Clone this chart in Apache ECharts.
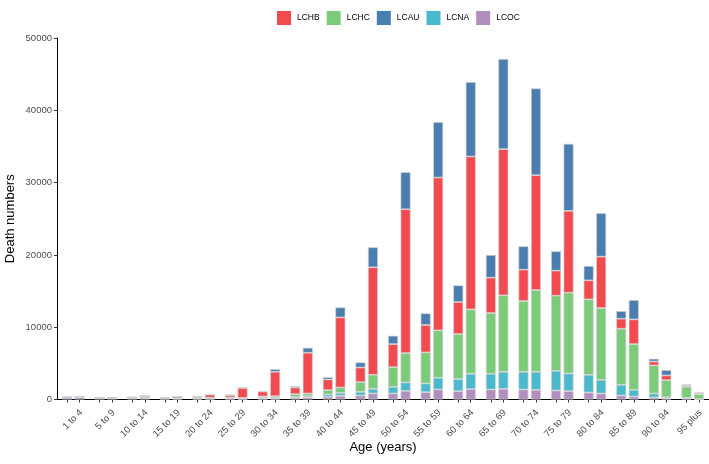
<!DOCTYPE html>
<html>
<head>
<meta charset="utf-8">
<script src="https://cdn.jsdelivr.net/npm/echarts@6/dist/echarts.min.js"></script>
<style>
html,body{margin:0;padding:0;background:#fff;}
#c{width:709px;height:464px;}
</style>
</head>
<body>
<div id="c"></div>
<script>
const ages = ['1 to 4','5 to 9','10 to 14','15 to 19','20 to 24','25 to 29','30 to 34','35 to 39','40 to 44','45 to 49','50 to 54','55 to 59','60 to 64','65 to 69','70 to 74','75 to 79','80 to 84','85 to 89','90 to 94','95 plus'];
const yTicks = [0, 10000, 20000, 30000, 40000, 50000];

// left bar of each age group
const LCOC_left = [260,200,200,120,110,110,120,231,369,554,831,1016,1154,1385,1385,1247,970,554,277,139];
const LCNA_left = [40,30,40,40,60,80,100,138,324,508,923,1200,1662,2170,2447,2724,2447,1477,554,92];
const LCHC_left = [30,20,40,40,60,100,200,370,600,1339,2724,4294,6233,8403,9788,10388,10434,7757,3878,1523];
const LCHB_left = [20,20,30,60,170,320,680,923,1477,2031,3186,3786,4433,4894,4340,3463,2632,1385,554,185];
const LCAU_left = [10,10,10,20,20,40,60,185,323,693,1154,1616,2308,3140,3232,2677,1985,1062,370,139];

// right bar of each age group
const LCOC_right = [300,200,220,110,100,90,110,277,508,831,1200,1385,1431,1477,1339,1154,831,416,139,46];
const LCNA_right = [40,30,40,40,60,60,100,185,415,646,1155,1616,2124,2355,2493,2447,1893,923,184,46];
const LCHC_right = [30,20,40,40,60,80,250,369,739,1939,4063,6556,8911,10573,11312,11173,9927,6325,2355,620];
const LCHB_right = [30,20,200,210,450,1370,3370,5633,9696,14867,19899,21146,21146,20223,15882,11312,7110,3417,646,140];
const LCAU_right = [10,10,10,20,30,60,370,692,1385,2770,5125,7664,10296,12465,12004,9280,6002,2678,739,120];

const colors = {LCHB:'#F24B4F', LCHC:'#7CCB7A', LCAU:'#4A7DB0', LCNA:'#4BB9CC', LCOC:'#B18EC0'};
const legendOrder = ['LCHB','LCHC','LCAU','LCNA','LCOC'];

const GRID_LEFT = 57, GRID_RIGHT = 0;
const BAR_W = 10, BAR_GAP = 2.5;
const FONT = 'Liberation Sans, Arial, Helvetica, sans-serif';

const chart = echarts.init(document.getElementById('c'), null, {renderer:'canvas'});
const band = (chart.getWidth() - GRID_LEFT - GRID_RIGHT) / ages.length;
const off = (BAR_W + BAR_GAP) / 2 / band;
const tickVals = [];
ages.forEach((a, i) => { tickVals.push(i + 0.5 - off, i + 0.5 + off); });

const stacks = [
  {id:'L', d:{LCOC:LCOC_left, LCNA:LCNA_left, LCHC:LCHC_left, LCHB:LCHB_left, LCAU:LCAU_left}},
  {id:'R', d:{LCOC:LCOC_right, LCNA:LCNA_right, LCHC:LCHC_right, LCHB:LCHB_right, LCAU:LCAU_right}}
];
const stackOrder = ['LCOC','LCNA','LCHC','LCHB','LCAU'];
const series = [];
stacks.forEach(s => {
  stackOrder.forEach(k => {
    series.push({
      type:'bar', name:k, stack:s.id, data:s.d[k], xAxisIndex:0,
      barWidth:BAR_W, barGap:(BAR_GAP/BAR_W*100)+'%',
      itemStyle:{color:colors[k], borderColor:'#d2d2d2', borderWidth:0.7},
      emphasis:{disabled:true}, animation:false
    });
  });
});

chart.setOption({
  backgroundColor:'#ffffff',
  animation:false,
  textStyle:{fontFamily:FONT},
  legend:{
    data:legendOrder, top:6, left:272, itemWidth:14, itemHeight:14, itemGap:7,
    icon:'rect',
    itemStyle:{borderWidth:0},
    textStyle:{fontSize:8.5, color:'#000', fontFamily:FONT, padding:[0,0,0,1]}
  },
  grid:{left:GRID_LEFT, right:GRID_RIGHT, top:38, bottom:64.5, containLabel:false, outerBoundsMode:'none'},
  xAxis:[
    {
      type:'category', data:ages, boundaryGap:true, position:'bottom',
      axisLine:{show:false}, axisTick:{show:false},
      axisLabel:{rotate:45, fontSize:9.5, color:'#4d4d4d', margin:4, fontFamily:FONT, interval:0,
                 align:'right', verticalAlign:'top', padding:[6,0,0,0]},
      name:'Age (years)', nameLocation:'middle', nameGap:41, nameMoveOverlap:false,
      nameTextStyle:{fontSize:13, color:'#000', fontFamily:FONT}
    },
    {
      type:'value', min:0, max:ages.length, position:'bottom',
      axisLine:{show:true, lineStyle:{color:'#000', width:1}},
      axisTick:{show:true, length:3, lineStyle:{color:'#333'}, customValues:tickVals},
      axisLabel:{show:false}, splitLine:{show:false}
    }
  ],
  yAxis:{
    type:'value', min:yTicks[0], max:yTicks[yTicks.length-1], interval:yTicks[1]-yTicks[0],
    axisLine:{show:true, lineStyle:{color:'#000', width:1}},
    axisTick:{show:true, length:3, lineStyle:{color:'#333'}},
    axisLabel:{fontSize:9.5, color:'#4d4d4d', margin:5, fontFamily:FONT, formatter:v => String(v)},
    splitLine:{show:false},
    name:'Death numbers', nameLocation:'middle', nameGap:40, nameMoveOverlap:false,
    nameTextStyle:{fontSize:13, color:'#000', fontFamily:FONT}
  },
  series:series
});
</script>
</body>
</html>
